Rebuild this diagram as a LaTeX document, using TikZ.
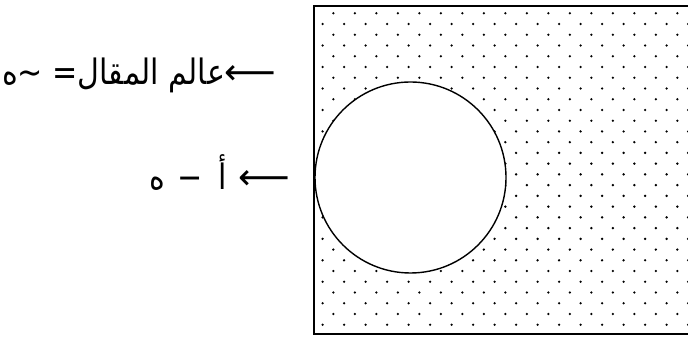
\documentclass[tikz,border=0pt]{standalone}
\usepackage{fontspec}
\newfontfamily\arabicfont[Script=Arabic,FakeStretch=0.86]{DejaVu Sans}
\newfontfamily\arrowfont{DejaVu Sans}
\newcommand{\larr}{{\arrowfont\fontsize{18}{20}\selectfont ⟵}}
\TeXXeTstate=1
\begin{document}
\begin{tikzpicture}[x=0.5pt,y=-0.5pt,
  lbl/.style={inner sep=0pt,font=\arabicfont\fontsize{17.5}{20}\selectfont},
  dotc/.style={fill=black}]
\useasboundingbox (0,0) rectangle (688,340);
\clip (0,0) rectangle (688,340);
% dots
\foreach \j in {0,...,29}{
  \foreach \i in {0,...,34}{
    \pgfmathtruncatemacro{\dpar}{mod(\i+\j,2)}
    \ifnum\dpar=1
      \fill[dotc] (322.6+\i*10.75,13.3+\j*10.74) circle (1.3);
    \fi
  }
}
\draw[line width=1pt] (314,6) rectangle (700,334);
\node[circle,draw,line width=0.7pt,fill=white,minimum size=95.5pt,inner sep=0pt] (c) at (410.5,177.5) {};
\node[lbl,anchor=base east] (t1) at (277,85) {\beginR \larr عالم المقال= \textasciitilde ه\endR};
\node[lbl,anchor=base east] (t2) at (291,190) {\beginR \larr\hspace{6pt}أ\hspace{8pt}−\hspace{6pt}ه\endR};
\end{tikzpicture}
\end{document}
